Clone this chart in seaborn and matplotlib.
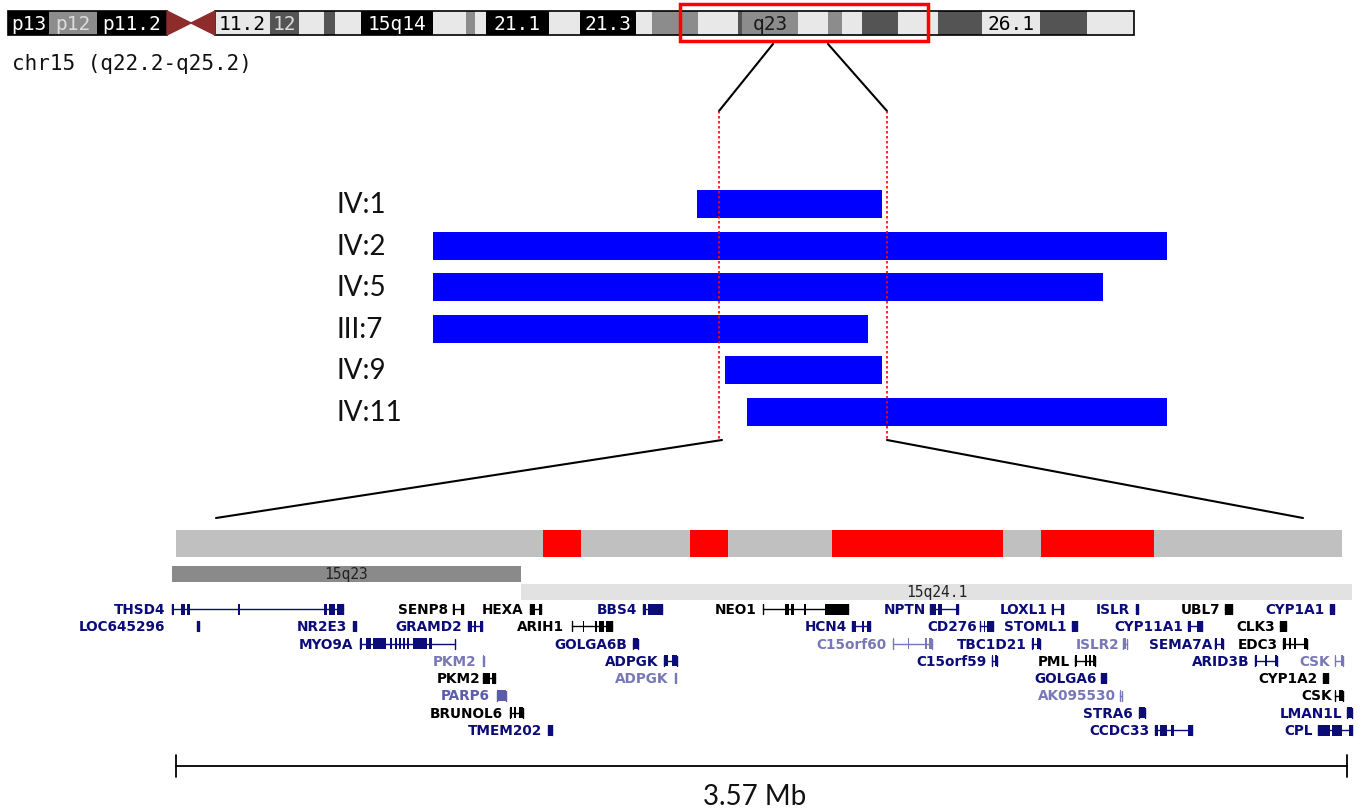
import matplotlib
matplotlib.use("Agg")
import matplotlib.pyplot as plt
from matplotlib.patches import Polygon, Rectangle
import numpy as np
import pandas as pd
import seaborn as sns

W, H = 1361, 812

# chromosome 15 ideogram bands (pixel-scaled positions along the chromosome)
band_start = [8, 49, 97, 215, 270, 299, 324, 335, 361, 433, 466, 475, 486, 549, 580, 636,
              652, 698, 738, 742, 798, 828, 842, 862, 898, 938, 982, 1040, 1087]
band_end = [49, 97, 167, 270, 299, 324, 335, 361, 433, 466, 475, 486, 549, 580, 636, 652,
            698, 738, 742, 798, 828, 842, 862, 898, 938, 982, 1040, 1087, 1134]
band_stain = ["gpos100", "gpos50", "gpos100", "gneg", "gpos75", "gneg", "gpos75", "gneg",
              "gpos100", "gneg", "gpos50", "gneg", "gpos100", "gneg", "gpos100", "gneg",
              "gpos50", "gneg", "gpos75", "gpos50", "gneg", "gpos50", "gneg", "gpos75",
              "gneg", "gpos75", "gneg", "gpos75", "gneg"]
band_label = ["p13", "p12", "p11.2", "11.2", "12", "", "", "", "15q14", "", "", "", "21.1",
              "", "21.3", "", "", "", "", "q23", "", "", "", "", "", "", "26.1", "", ""]
band_text = ["#ffffff", "#dcdcdc", "#ffffff", "#000000", "#dcdcdc", "", "", "", "#ffffff",
             "", "", "", "#ffffff", "", "#ffffff", "", "", "", "", "#1a1a1a", "", "", "", "",
             "", "", "#000000", "", ""]
stain_colors = {"gpos100": "#000000", "gpos75": "#545454", "gpos50": "#8c8c8c", "gneg": "#e8e8e8"}

# CNV segments per individual (start, end)
samples = ["IV:1", "IV:2", "IV:5", "III:7", "IV:9", "IV:11"]
sample_start = [697, 433, 433, 433, 725, 747]
sample_end = [882, 1167, 1103, 868, 882, 1167]

# minimal region and the zoomed 3.57 Mb window
region_x = [719, 887]
track_start, track_end = 176, 1342
red_start = [543, 690, 832, 1041]
red_end = [581, 728, 1003, 1154]
cyto_names = ["15q23", "15q24.1"]
cyto_start = [172, 521]
cyto_end = [521, 1352]
cyto_colors = ["#8a8a8a", "#e2e2e2"]

# RefSeq genes in the window
gene_names = ["THSD4", "LOC645296", "NR2E3", "MYO9A", "SENP8", "GRAMD2", "PKM2", "PKM2",
              "PARP6", "BRUNOL6", "TMEM202", "HEXA", "ARIH1", "BBS4", "GOLGA6B", "ADPGK",
              "ADPGK", "NEO1", "HCN4", "C15orf60", "NPTN", "CD276", "C15orf59", "TBC1D21",
              "LOXL1", "STOML1", "PML", "ISLR2", "GOLGA6", "AK095530", "STRA6", "CCDC33",
              "ISLR", "CYP11A1", "SEMA7A", "ARID3B", "UBL7", "CYP1A1", "CLK3", "EDC3", "CSK",
              "CYP1A2", "CSK", "LMAN1L", "CPL"]
gene_rows = [0, 1, 1, 2, 0, 1, 3, 4, 5, 6, 7, 0, 1, 0, 2, 3, 4, 0, 1, 2, 0, 1, 3, 2, 0, 1,
             3, 2, 4, 5, 6, 7, 0, 1, 2, 3, 0, 0, 1, 2, 3, 4, 5, 6, 7]
gene_label_end = [165, 165, 347, 353, 448, 462, 476, 480, 490, 503, 542, 523, 564, 637, 627,
                  658, 668, 757, 847, 887, 926, 977, 987, 1027, 1048, 1067, 1070, 1119, 1097,
                  1116, 1133, 1150, 1130, 1183, 1212, 1250, 1220, 1325, 1275, 1278, 1330, 1318,
                  1332, 1342, 1313]
gene_start = [172, 197, 353, 360, 453, 468, 483, 483, 497, 510, 548, 530, 572, 643, 633, 664,
              675, 763, 852, 893, 930, 980, 992, 1032, 1052, 1072, 1075, 1123, 1101, 1120,
              1139, 1155, 1136, 1188, 1215, 1255, 1225, 1330, 1280, 1283, 1335, 1323, 1335,
              1347, 1318]
gene_end = [343, 199, 356, 455, 463, 482, 484, 495, 506, 523, 552, 541, 612, 662, 638, 677,
            676, 848, 870, 932, 958, 993, 997, 1040, 1063, 1077, 1095, 1127, 1106, 1122, 1145,
            1192, 1138, 1202, 1223, 1277, 1232, 1334, 1286, 1307, 1343, 1328, 1343, 1352, 1352]
gene_shade = ["n", "n", "n", "n", "k", "n", "l", "k", "p", "k", "n", "k", "k", "n", "n", "n",
              "l", "k", "n", "l", "n", "n", "n", "n", "n", "n", "k", "l", "n", "l", "n", "n",
              "n", "n", "n", "n", "k", "n", "k", "k", "l", "k", "k", "n", "n"]
gene_exons = [
    [(172, 174), (181, 185), (187, 190), (238, 240), (324, 327), (329, 335), (337, 343)],
    [(197, 199)], [(353, 356)],
    [(360, 362), (366, 371), (373, 386), (390, 392), (395, 397), (399, 401), (403, 405),
     (407, 409), (413, 427), (429, 432)],
    [(453, 455), (461, 463)], [(468, 472), (474, 476), (480, 482)], [(483, 484.5)],
    [(483, 490), (492, 495)], [(497, 506)], [(510, 512), (514, 516), (519, 523)], [(548, 552)],
    [(530, 535), (539, 541)], [(572, 573), (583, 584), (595, 597), (599, 604), (606, 612)],
    [(643, 646), (648, 662)], [(633, 638)], [(664, 668), (672, 677)], [(675, 676.5)],
    [(763, 764), (785, 789), (791, 794), (804, 806), (825, 848)],
    [(852, 856), (862, 864), (867, 870)], [(893, 894), (908, 909), (925, 927), (929, 932)],
    [(930, 936), (938, 942), (956, 958)], [(980, 981), (984, 985), (987, 993)],
    [(992, 993.5), (995, 997)], [(1032, 1034), (1037, 1040)], [(1052, 1054), (1061, 1063)],
    [(1072, 1077)], [(1075, 1077), (1085, 1087), (1089, 1091), (1093, 1095)], [(1123, 1126)],
    [(1101, 1106)], [(1120, 1121.5)], [(1139, 1145)],
    [(1155, 1158), (1160, 1167), (1171, 1174), (1188, 1192)], [(1136, 1138)],
    [(1188, 1191), (1197, 1202)], [(1215, 1217), (1221, 1223)],
    [(1255, 1257), (1265, 1267), (1275, 1277)], [(1225, 1232)], [(1330, 1334)], [(1280, 1286)],
    [(1283, 1286), (1289, 1291), (1294, 1296), (1304, 1307)], [(1335, 1336), (1341, 1343)],
    [(1323, 1328)], [(1335, 1336), (1339, 1343)], [(1347, 1352)],
    [(1318, 1330), (1332, 1342), (1349, 1352)],
]
shade_colors = {"n": "#0c0c78", "k": "#000000", "l": "#7878b8", "p": "#5c5cac"}

scale_label = "3.57 Mb"

sns.set_theme(style="white")
plt.rcParams["font.family"] = ["DejaVu Sans"]

fig = plt.figure(figsize=(W / 100, H / 100), dpi=100)
fig.patch.set_facecolor("white")

# CNV bars (seaborn) in their own axes, x in the same pixel scale
row_top, row_pitch = 184.2, 41.6
bax = fig.add_axes([0, 1 - (row_top + 6 * row_pitch) / H, 1, 6 * row_pitch / H])
df = pd.DataFrame({"sample": samples, "start": sample_start,
                   "length": np.subtract(sample_end, sample_start)})
sns.barplot(data=df, x="length", y="sample", left=df["start"].to_numpy(), color="#0000ff",
            saturation=1, width=0.67, errorbar=None, linewidth=0, ax=bax)
bax.set_xlim(0, W)
bax.set_ylim(5.5, -0.5)
bax.axis("off")
for i, s in enumerate(samples):
    bax.text(337, i, s, ha="left", va="center", fontsize=20, family=["Lato"], color="#111111")

ax = fig.add_axes([0, 0, 1, 1])
ax.set_facecolor("none")
ax.set_xlim(0, W)
ax.set_ylim(H, 0)
ax.axis("off")

# ideogram
ideo_y, ideo_h = 24, 24
bs, be = np.array(band_start), np.array(band_end)
ax.barh(ideo_y, be - bs, left=bs, height=ideo_h,
        color=[stain_colors[s] for s in band_stain], linewidth=0)
for s, e, tc, lab in zip(band_start, band_end, band_text, band_label):
    if lab:
        ax.text((s + e) / 2, ideo_y + 1, lab, ha="center", va="center", fontsize=14,
                family="DejaVu Sans Mono", color=tc)
ax.add_patch(Rectangle((8, 12), 159, 24, fill=False, edgecolor="black", lw=1.2))
ax.add_patch(Rectangle((215, 12), 919, 24, fill=False, edgecolor="black", lw=1.2))
ax.add_patch(Polygon([(167, 12), (191, 24), (167, 36)], color="#8e2b2b"))
ax.add_patch(Polygon([(215, 12), (191, 24), (215, 36)], color="#8e2b2b"))
ax.add_patch(Rectangle((680, 5), 248, 37, fill=False, edgecolor="#ff0000", lw=2.5))
ax.text(12, 64, "chr15 (q22.2-q25.2)", ha="left", va="center", fontsize=15,
        family="DejaVu Sans Mono", color="#111111")

# zoom lines and minimal region
ax.plot([773, region_x[0]], [45, 112], color="black", lw=1.5)
ax.plot([828, region_x[1]], [45, 112], color="black", lw=1.5)
for x in region_x:
    ax.plot([x, x], [112, 440], color="#ff0000", lw=1.2, ls=(0, (1.5, 1.5)))
ax.plot([722, 216], [441, 519], color="black", lw=1.5)
ax.plot([region_x[1], 1303], [441, 519], color="black", lw=1.5)

# zoomed track
ax.barh(544.5, track_end - track_start, left=track_start, height=27, color="#c0c0c0", lw=0)
rs, re_ = np.array(red_start), np.array(red_end)
ax.barh(544.5, re_ - rs, left=rs, height=27, color="#ff0000", lw=0)
cy = [575, 593]
for name, s, e, c, y in zip(cyto_names, cyto_start, cyto_end, cyto_colors, cy):
    ax.barh(y, e - s, left=s, height=16, color=c, lw=0)
    ax.text((s + e) / 2, y, name, ha="center", va="center", fontsize=10.5,
            family="DejaVu Sans Mono", color="#222222")

# genes
for name, r, lx, s, e, sh, ex in zip(gene_names, gene_rows, gene_label_end, gene_start,
                                     gene_end, gene_shade, gene_exons):
    y = 610 + 17.3 * r
    col = shade_colors[sh]
    ax.text(lx, y, name, ha="right", va="center", fontsize=9.8, fontweight="bold", color=col)
    ax.plot([s, e], [y, y], color=col, lw=1)
    ax.plot([s, s], [y - 5, y + 5], color=col, lw=1)
    ax.plot([e, e], [y - 5, y + 5], color=col, lw=1)
    x0 = np.array([a for a, b in ex])
    x1 = np.array([b for a, b in ex])
    ax.barh(y, x1 - x0, left=x0, height=11, color=col, lw=0)

# scale bar
ax.plot([176, 1347], [767, 767], color="black", lw=1.3)
ax.plot([176, 176], [756, 778], color="black", lw=1.3)
ax.plot([1347, 1347], [756, 778], color="black", lw=1.3)
ax.text(755, 797, scale_label, ha="center", va="center", fontsize=20, family=["Lato"],
        color="#111111")

fig.savefig("out.png", dpi=100, facecolor="white")
